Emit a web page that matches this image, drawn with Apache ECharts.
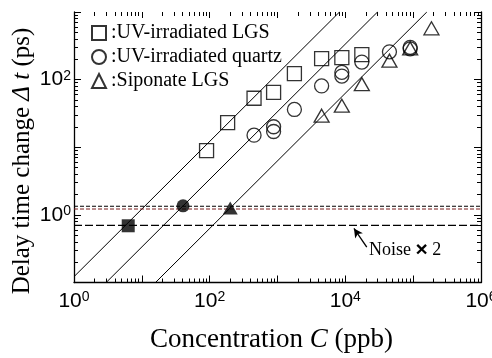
<!DOCTYPE html>
<html>
<head>
<meta charset="utf-8">
<script src="https://cdn.jsdelivr.net/npm/echarts@6/dist/echarts.min.js"></script>
<style>html,body{margin:0;padding:0;background:#fff}#c{width:492px;height:358px}</style>
</head>
<body>
<div id="c"></div>
<script>
// ---- data ----
var lgsX = [90, 184, 451, 876, 1775, 4470, 8880, 17500];
var lgsY = [8.9, 23.2, 53, 64.6, 123, 205, 212, 235];
var quartzX = [451, 876, 876, 1775, 4470, 8880, 8880, 17500, 44700, 90300, 90300];
var quartzY = [15.1, 20.1, 17.1, 36.2, 80.7, 128, 113, 182, 258, 300, 285];
var sipX = [4470, 8880, 17500, 44700, 90300, 186000];
var sipY = [29.3, 41.2, 85.8, 191, 290, 574];
var limitX = [6.3, 40.5, 201];          // filled markers: LGS, quartz, siponate
var limitY = [0.69, 1.36, 1.26];
var fitLGS = [[1, 0.122], [8200, 1000]];
var fitQuartz = [[2.98, 0.1], [29800, 1000]];
var fitSip = [[15.9, 0.1], [159000, 1000]];
var noiseX = [1, 1e6];
var noiseUpper = 1.34, noiseRed = 1.22, noiseLower = 0.70;
var arrowTail = [20700, 0.333], arrowTip = [13400, 0.63];
var seriesNames = ['UV-irradiated LGS', 'UV-irradiated quartz', 'Siponate LGS'];
var xMajor = [1, 10, 100, 1e3, 1e4, 1e5, 1e6];
var xLabels = [1, 100, 1e4, 1e6];
var yMajor = [0.1, 1, 10, 100, 1000];
var yLabels = [1, 100];

function minorTicks(decades) {
  var out = [];
  decades.forEach(function (d) { for (var k = 2; k <= 9; k++) out.push(+(d * k).toPrecision(6)); });
  return out;
}
var xMinor = minorTicks([1, 10, 100, 1e3, 1e4, 1e5]);
var yMinor = minorTicks([0.1, 1, 10, 100]);

function pairs(xs, ys) { return xs.map(function (x, i) { return [x, ys[i]]; }); }

var sans = "'Liberation Sans', Arial, sans-serif";
var serif = "'Liberation Serif', 'Times New Roman', serif";
var lblRich = {
  b: { fontSize: 21, fontFamily: sans, color: '#000' },
  s: { fontSize: 14, fontFamily: sans, color: '#000', verticalAlign: 'top' }
};
function expFmt(v) { return '{b|10}{s|' + Math.round(Math.log10(v)) + '}'; }

function xAx(pos, ticks, len, labels, showLine) {
  return {
    type: 'log', logBase: 10, min: 1, max: 1e6, position: pos, gridIndex: 0,
    axisLine: { show: showLine, lineStyle: { color: '#000', width: 1.3 } },
    axisTick: { show: true, inside: true, length: len, customValues: ticks, lineStyle: { color: '#000', width: 1 } },
    axisLabel: labels ? { show: true, customValues: labels, formatter: expFmt, rich: lblRich, margin: 8 } : { show: false },
    splitLine: { show: false }, minorTick: { show: false }
  };
}
function yAx(pos, ticks, len, labels, showLine) {
  return {
    type: 'log', logBase: 10, min: 0.1, max: 1000, position: pos, gridIndex: 0,
    axisLine: { show: showLine, lineStyle: { color: '#000', width: 1.3 } },
    axisTick: { show: true, inside: true, length: len, customValues: ticks, lineStyle: { color: '#000', width: 1 } },
    axisLabel: labels ? { show: true, customValues: labels, formatter: expFmt, rich: lblRich, margin: 3 } : { show: false },
    splitLine: { show: false }, minorTick: { show: false }
  };
}

var openStyle = { color: 'rgba(0,0,0,0)', borderColor: '#000', borderWidth: 1.3 };

var option = {
  animation: false,
  backgroundColor: '#fff',
  grid: { left: 74, right: 11, top: 12, bottom: 75.5, containLabel: false, outerBoundsMode: 'none' },
  xAxis: [
    xAx('bottom', xMajor, 7, xLabels, true),
    xAx('bottom', xMinor, 4, null, false),
    xAx('top', xMajor, 6, null, false),
    xAx('top', xMinor, 4, null, false)
  ],
  yAxis: [
    yAx('left', yMajor, 7, yLabels, true),
    yAx('left', yMinor, 4, null, false),
    yAx('right', yMajor, 7, null, true),
    yAx('right', yMinor, 4, null, false)
  ],
  legend: {
    data: seriesNames, orient: 'vertical', left: 86, top: 18,
    itemWidth: 14, itemHeight: 14, itemGap: 4,
    formatter: function (n) { return ':' + n; },
    textStyle: { fontFamily: serif, fontSize: 20, color: '#000', lineHeight: 20 }
  },
  series: [
    { type: 'line', data: fitLGS, symbol: 'none', clip: true, lineStyle: { color: '#000', width: 1 }, z: 1 },
    { type: 'line', data: fitQuartz, symbol: 'none', clip: true, lineStyle: { color: '#000', width: 1 }, z: 1 },
    { type: 'line', data: fitSip, symbol: 'none', clip: true, lineStyle: { color: '#000', width: 1 }, z: 1 },
    { type: 'line', data: noiseX.map(function (x) { return [x, noiseUpper]; }), symbol: 'none',
      lineStyle: { color: '#000', width: 1.1, type: [4, 2] }, z: 1 },
    { type: 'line', data: noiseX.map(function (x) { return [x, noiseRed]; }), symbol: 'none',
      lineStyle: { color: '#7a1f1f', width: 1.1, type: [4, 2] }, z: 1 },
    { type: 'line', data: noiseX.map(function (x) { return [x, noiseLower]; }), symbol: 'none',
      lineStyle: { color: '#000', width: 1.1, type: [8, 3] }, z: 1,
      markLine: { silent: true, symbol: ['none', 'arrow'], symbolSize: [7, 9], label: { show: false },
        lineStyle: { color: '#000', width: 1.3, type: 'solid' },
        data: [[{ coord: arrowTail }, { coord: arrowTip }]] } },
    { name: seriesNames[0], type: 'scatter', symbol: 'rect', symbolSize: 14, data: pairs(lgsX, lgsY), itemStyle: openStyle, z: 3 },
    { name: seriesNames[1], type: 'scatter', symbol: 'circle', symbolSize: 14, data: pairs(quartzX, quartzY), itemStyle: openStyle, z: 3 },
    { name: seriesNames[2], type: 'scatter', symbol: 'triangle', symbolSize: [15, 13], data: pairs(sipX, sipY), itemStyle: openStyle, z: 3 },
    { type: 'scatter', symbol: 'rect', symbolSize: 13, data: [[limitX[0], limitY[0]]], itemStyle: { color: '#000' }, z: 4 },
    { type: 'scatter', symbol: 'circle', symbolSize: 13, data: [[limitX[1], limitY[1]]], itemStyle: { color: '#000' }, z: 4 },
    { type: 'scatter', symbol: 'triangle', symbolSize: [15, 13], data: [[limitX[2], limitY[2]]], itemStyle: { color: '#000' }, z: 4 }
  ],
  graphic: [
    { type: 'text', left: 150, top: 326, style: {
        text: '{r|Concentration }{i|C}{r| (ppb)}',
        rich: { r: { fontFamily: serif, fontSize: 27, fill: '#000' }, i: { fontFamily: serif, fontSize: 27, fontStyle: 'italic', fill: '#000' } } } },
    { type: 'text', x: 22, y: 161, rotation: Math.PI / 2, style: {
        text: '{r|Delay time change }{i|Δ t}{r| (ps)}', align: 'center', verticalAlign: 'middle',
        rich: { r: { fontFamily: serif, fontSize: 25, fill: '#000' }, i: { fontFamily: serif, fontSize: 25, fontStyle: 'italic', fill: '#000' } } } },
    { type: 'text', left: 369, top: 240, style: {
        text: '{n|Noise }{x|×}{n| 2}',
        rich: { n: { fontFamily: serif, fontSize: 18, fill: '#000' }, x: { fontFamily: sans, fontSize: 21, fontWeight: 'bold', fill: '#000' } } } }
  ]
};
var chart = echarts.init(document.getElementById('c'), null, { renderer: 'canvas' });
chart.setOption(option);
</script>
</body>
</html>
